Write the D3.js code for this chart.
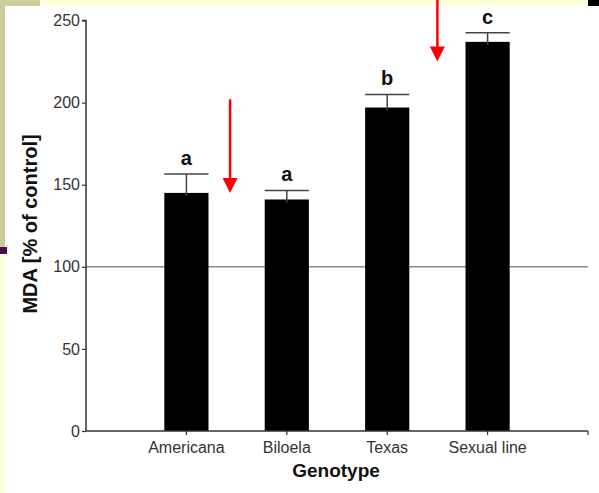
<!DOCTYPE html>
<html>
<head>
<meta charset="utf-8">
<script src="https://cdn.jsdelivr.net/npm/d3@7"></script>
<style>
  body { margin: 0; background: #fff; }
  svg { display: block; font-family: Arial, "Liberation Sans", sans-serif; }
</style>
</head>
<body>
<svg id="chart" width="599" height="493"></svg>
<script>
// data
var genotypes = ['Americana', 'Biloela', 'Texas', 'Sexual line'];
var mdaMeans = [145, 141, 197, 237];
var mdaErrors = [11.5, 5.5, 8, 5.5];
var sigLetters = ['a', 'a', 'b', 'c'];
var yTicks = [0, 50, 100, 150, 200, 250];
var controlLevel = 100;
// red arrows: position between two genotypes, from value -> to value
var arrows = [
  {between: [0, 1], shift: -0.065, from: 202, to: 145},
  {between: [2, 3], shift: 0, from: 263, to: 225}
];

var svg = d3.select('#chart');

// slide frame bits
svg.append('rect').attr('x', 0).attr('y', 0).attr('width', 599).attr('height', 493).attr('fill', '#fff');
svg.append('rect').attr('x', 40).attr('y', 0).attr('width', 548).attr('height', 6).attr('fill', '#ffffdd');
svg.append('rect').attr('x', 0).attr('y', 0).attr('width', 40).attr('height', 6).attr('fill', '#cccc99');
svg.append('rect').attr('x', 588).attr('y', 0).attr('width', 11).attr('height', 6).attr('fill', '#000');
svg.append('rect').attr('x', 0).attr('y', 0).attr('width', 5).attr('height', 247).attr('fill', '#cccc99');
svg.append('rect').attr('x', 0).attr('y', 247).attr('width', 7).attr('height', 7).attr('fill', '#4a0f4a');
svg.append('rect').attr('x', 0).attr('y', 254).attr('width', 5).attr('height', 239).attr('fill', '#ffffdd');

var x0 = 86, x1 = 588, yTop = 20.5, yBot = 431;
var slot = (x1 - x0) / 5;

var x = d3.scaleBand()
  .domain(genotypes)
  .range([x0 + slot / 2, x1 - slot / 2])
  .paddingInner(0.56)
  .paddingOuter(0.28);
// centre the bars on the tick positions
var center = function (g) { return x0 + slot * (genotypes.indexOf(g) + 1); };

var y = d3.scaleLinear().domain([0, 250]).range([yBot, yTop]);

// control line (behind bars)
svg.append('line')
  .attr('x1', x0).attr('x2', x1)
  .attr('y1', y(controlLevel)).attr('y2', y(controlLevel))
  .attr('stroke', '#8c8c8c').attr('stroke-width', 1.5);

var bw = x.bandwidth();
var rows = genotypes.map(function (g, i) {
  return {name: g, mean: mdaMeans[i], err: mdaErrors[i], letter: sigLetters[i]};
});

// error bars (upper only)
var eb = svg.append('g').attr('stroke', '#444').attr('stroke-width', 1.5);
eb.selectAll('line.stem').data(rows).enter().append('line')
  .attr('class', 'stem')
  .attr('x1', function (d) { return center(d.name); })
  .attr('x2', function (d) { return center(d.name); })
  .attr('y1', function (d) { return y(d.mean) + 4; })
  .attr('y2', function (d) { return y(d.mean + d.err); });
eb.selectAll('line.cap').data(rows).enter().append('line')
  .attr('class', 'cap')
  .attr('x1', function (d) { return center(d.name) - bw / 2; })
  .attr('x2', function (d) { return center(d.name) + bw / 2; })
  .attr('y1', function (d) { return y(d.mean + d.err); })
  .attr('y2', function (d) { return y(d.mean + d.err); });

svg.selectAll('rect.bar').data(rows).enter().append('rect')
  .attr('class', 'bar')
  .attr('x', function (d) { return center(d.name) - bw / 2; })
  .attr('y', function (d) { return y(d.mean); })
  .attr('width', bw)
  .attr('height', function (d) { return y(0) - y(d.mean); })
  .attr('fill', '#000');

// little stem visible on top of the bar
eb.raise();
eb.selectAll('line.stem').attr('y1', function (d) { return y(d.mean) + 3; });

svg.selectAll('text.sig').data(rows).enter().append('text')
  .attr('class', 'sig')
  .attr('x', function (d) { return center(d.name); })
  .attr('y', function (d) { return y(d.mean + d.err) - 9; })
  .attr('text-anchor', 'middle')
  .attr('font-size', 20).attr('font-weight', 'bold')
  .attr('fill', '#111')
  .text(function (d) { return d.letter; });

// y axis
var yAxis = d3.axisLeft(y).tickValues(yTicks).tickSize(4).tickPadding(2);
var gy = svg.append('g').attr('transform', 'translate(' + x0 + ',0)').call(yAxis);
gy.select('.domain').attr('stroke', '#333').attr('stroke-width', 1.5).attr('d', 'M-4,' + yTop + 'H0V' + yBot);
gy.selectAll('.tick line').attr('stroke', '#333').attr('stroke-width', 1.2);
gy.selectAll('.tick text').attr('font-size', 16).attr('fill', '#333')
  .attr('font-family', 'Arial, "Liberation Sans", sans-serif');

// x axis: line from x0 to x1, ticks at the genotype centres and at the end
var gx = svg.append('g').attr('transform', 'translate(0,' + yBot + ')');
gx.append('line').attr('x1', x0).attr('x2', x1).attr('y1', 0).attr('y2', 0)
  .attr('stroke', '#333').attr('stroke-width', 1.5);
gx.selectAll('line.xt').data(genotypes.concat([null])).enter().append('line')
  .attr('class', 'xt')
  .attr('x1', function (d) { return d ? center(d) : x1; })
  .attr('x2', function (d) { return d ? center(d) : x1; })
  .attr('y1', 0).attr('y2', 4)
  .attr('stroke', '#333').attr('stroke-width', 1.2);
gx.selectAll('text.xl').data(genotypes).enter().append('text')
  .attr('class', 'xl')
  .attr('x', function (d) { return center(d); })
  .attr('y', 22)
  .attr('text-anchor', 'middle')
  .attr('font-size', 16).attr('fill', '#333')
  .text(function (d) { return d; });

svg.append('text')
  .attr('x', (x0 + x1) / 2 - 1).attr('y', 477)
  .attr('text-anchor', 'middle')
  .attr('font-size', 19).attr('font-weight', 'bold').attr('fill', '#111')
  .text('Genotype');

svg.append('text')
  .attr('transform', 'translate(37,224) rotate(-90)')
  .attr('text-anchor', 'middle')
  .attr('font-size', 20).attr('font-weight', 'bold').attr('fill', '#111')
  .text('MDA [% of control]');

// red annotation arrows
arrows.forEach(function (a) {
  var ax = (center(genotypes[a.between[0]]) + center(genotypes[a.between[1]])) / 2 + a.shift * slot;
  var yTo = y(a.to), yFrom = Math.max(0, y(a.from));
  svg.append('line')
    .attr('x1', ax).attr('x2', ax).attr('y1', yFrom).attr('y2', yTo - 12)
    .attr('stroke', '#ff0000').attr('stroke-width', 2.5);
  svg.append('path')
    .attr('d', 'M' + (ax - 7.5) + ',' + (yTo - 15) + 'L' + (ax + 7.5) + ',' + (yTo - 15) + 'L' + ax + ',' + yTo + 'Z')
    .attr('fill', '#ff0000');
});
</script>
</body>
</html>
